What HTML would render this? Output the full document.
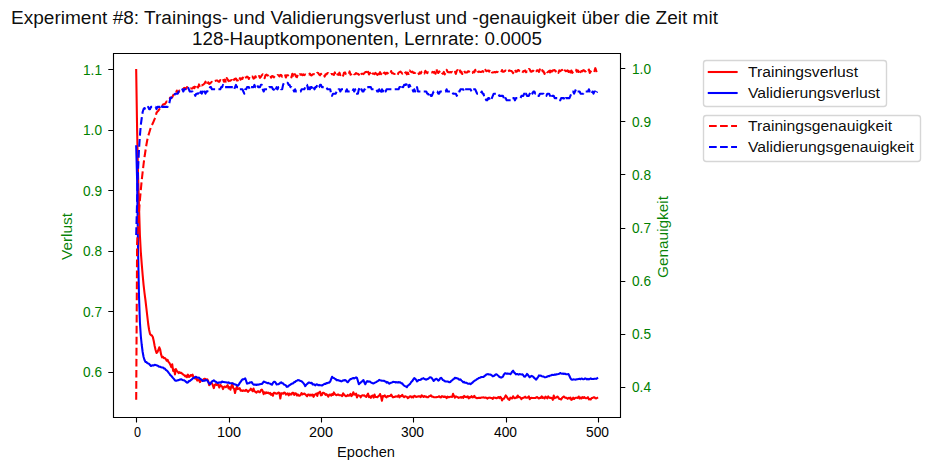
<!DOCTYPE html><html><head><meta charset="utf-8"><style>html,body{margin:0;padding:0;background:#fff}body{width:930px;height:470px;overflow:hidden}svg{display:block}text{font-family:"Liberation Sans",sans-serif}</style></head><body>
<svg width="930" height="470" viewBox="0 0 930 470">
<rect width="930" height="470" fill="#fff"/>
<defs><clipPath id="c"><rect x="113.15" y="53.13" width="507.08" height="363.59"/></clipPath></defs>
<g clip-path="url(#c)">
<path d="M136.19 70 L137.12 130 L138.04 175 L138.97 205 L139.89 235 L140.81 252 L141.74 264 L142.66 275 L143.59 285 L144.51 293 L145.43 300 L146.36 308 L147.28 316 L148.2 324 L149.13 330 L150.05 334 L150.98 335 L151.9 335.5 L152.82 337 L153.75 341 L154.67 346 L155.59 350 L156.52 353 L157.44 352 L158.37 350 L159.29 347.28 L160.21 349.72 L161.14 354.71 L162.06 357.32 L162.99 356.88 L163.91 358.29 L164.83 358.03 L165.76 358.95 L166.68 360.69 L167.6 359.82 L168.53 362.04 L169.45 362.94 L170.38 364.91 L171.3 367.19 L172.22 364.27 L173.15 370.89 L174.07 369.61 L175 374.42 L175.92 369.09 L176.84 371.02 L177.77 371.82 L178.69 373.08 L179.61 372.14 L180.54 373.04 L181.46 372.9 L182.39 373.93 L183.31 374.54 L184.23 375.22 L185.16 376.4 L186.08 375.61 L187 377.13 L187.93 374.66 L188.85 376.96 L189.78 376.5 L190.7 374.98 L191.62 375.71 L192.55 374.58 L193.47 377.2 L194.4 377.82 L195.32 378.57 L196.24 376.88 L197.17 380.6 L198.09 380.05 L199.01 379.77 L199.94 382.14 L200.86 380.44 L201.79 380.48 L202.71 380.14 L203.63 379.13 L204.56 378.77 L205.48 379.08 L206.4 379.89 L207.33 379.27 L208.25 381.19 L209.18 385.19 L210.1 383.38 L211.02 382.7 L211.95 383.36 L212.87 385.32 L213.8 388.09 L214.72 385.03 L215.64 384.12 L216.57 384.99 L217.49 383.93 L218.41 385.32 L219.34 387.48 L220.26 384.74 L221.19 385.85 L222.11 386.54 L223.03 389.06 L223.96 386.87 L224.88 386.49 L225.81 387.21 L226.73 386.26 L227.65 385.08 L228.58 388.47 L229.5 387.2 L230.42 389.73 L231.35 386.45 L232.27 383.44 L233.2 388.05 L234.12 388.88 L235.04 393.06 L235.97 388.98 L236.89 386.74 L237.81 389.1 L238.74 388.83 L239.66 388.12 L240.59 390.72 L241.51 390.35 L242.43 391 L243.36 390.33 L244.28 390.81 L245.21 390.95 L246.13 389.74 L247.05 390.8 L247.98 391.96 L248.9 390.73 L249.82 390.21 L250.75 388.68 L251.67 389.74 L252.6 391.09 L253.52 388.48 L254.44 391.46 L255.37 391.53 L256.29 392.71 L257.21 391.72 L258.14 391.18 L259.06 392.12 L259.99 392.2 L260.91 390.1 L261.83 389.53 L262.76 391.34 L263.68 394.17 L264.61 392.24 L265.53 393.45 L266.45 392.41 L267.38 393.03 L268.3 392.55 L269.22 393.7 L270.15 392.94 L271.07 394.79 L272 393.84 L272.92 395.76 L273.84 392.81 L274.77 392.72 L275.69 393.56 L276.62 393.76 L277.54 393.26 L278.46 392.46 L279.39 392.93 L280.31 398.52 L281.23 393.22 L282.16 393.34 L283.08 393.75 L284.01 392.57 L284.93 392.83 L285.85 394.6 L286.78 393.91 L287.7 393.29 L288.62 395.41 L289.55 393.56 L290.47 394.51 L291.4 394.58 L292.32 392.85 L293.24 392.74 L294.17 394.96 L295.09 393.25 L296.02 393.56 L296.94 395.48 L297.86 394.45 L298.79 395.66 L299.71 395.62 L300.63 394.92 L301.56 392.97 L302.48 394.47 L303.41 393.9 L304.33 393.57 L305.25 394.36 L306.18 395.26 L307.1 396.32 L308.03 394.52 L308.95 394.51 L309.87 395.67 L310.8 394.65 L311.72 395.4 L312.64 394.5 L313.57 396.84 L314.49 394.94 L315.42 394.42 L316.34 393.57 L317.26 395.96 L318.19 392.74 L319.11 392.71 L320.03 391.72 L320.96 395.43 L321.88 394.98 L322.81 392.74 L323.73 392.73 L324.65 393.59 L325.58 394.9 L326.5 394.21 L327.43 395.3 L328.35 396.6 L329.27 394.8 L330.2 394.45 L331.12 395.62 L332.04 394 L332.97 395 L333.89 392.43 L334.82 394.05 L335.74 394.88 L336.66 395.2 L337.59 394.55 L338.51 394.63 L339.43 395.28 L340.36 395.27 L341.28 395.3 L342.21 396.15 L343.13 393.32 L344.05 394.42 L344.98 395.43 L345.9 396.2 L346.83 395.94 L347.75 394.91 L348.67 395.78 L349.6 395.23 L350.52 393.82 L351.44 396.1 L352.37 395.01 L353.29 392.26 L354.22 394.52 L355.14 394.62 L356.06 393.59 L356.99 397.46 L357.91 395.26 L358.84 395.54 L359.76 395.67 L360.68 397.34 L361.61 395.68 L362.53 395.34 L363.45 395.59 L364.38 395.36 L365.3 396.4 L366.23 396.98 L367.15 395.07 L368.07 393.65 L369 397.12 L369.92 396.37 L370.84 397.8 L371.77 395.86 L372.69 395.48 L373.62 397.62 L374.54 394.59 L375.46 397 L376.39 397.06 L377.31 397.27 L378.24 396.27 L379.16 395.68 L380.08 394.02 L381.01 396.3 L381.93 400.76 L382.85 396.06 L383.78 396.43 L384.7 395.36 L385.63 396.77 L386.55 397.31 L387.47 395.99 L388.4 396.46 L389.32 395.92 L390.24 395.97 L391.17 394.53 L392.09 396.27 L393.02 397.38 L393.94 397.05 L394.86 396.88 L395.79 396.25 L396.71 396.49 L397.64 396.68 L398.56 395.24 L399.48 397.32 L400.41 396 L401.33 396.23 L402.25 394.86 L403.18 396.43 L404.1 397.07 L405.03 396.35 L405.95 396.58 L406.87 396.75 L407.8 398.13 L408.72 397.53 L409.65 396.53 L410.57 396.22 L411.49 397.45 L412.42 396.63 L413.34 397.28 L414.26 395.83 L415.19 396.15 L416.11 396.9 L417.04 396.75 L417.96 396.34 L418.88 396.41 L419.81 396.39 L420.73 397.19 L421.65 395.3 L422.58 396.05 L423.5 396.93 L424.43 395.98 L425.35 396.82 L426.27 396.56 L427.2 397.33 L428.12 397.25 L429.05 396.33 L429.97 396.09 L430.89 395.3 L431.82 396.64 L432.74 396.66 L433.66 397.18 L434.59 397.22 L435.51 397.28 L436.44 397.15 L437.36 397 L438.28 396.73 L439.21 396.29 L440.13 397.31 L441.05 397.46 L441.98 396.14 L442.9 396.47 L443.83 396.99 L444.75 396.52 L445.67 396.95 L446.6 398.08 L447.52 396.7 L448.45 397.22 L449.37 397.14 L450.29 396.82 L451.22 396.77 L452.14 396.96 L453.06 393.77 L453.99 396.09 L454.91 397.71 L455.84 396.36 L456.76 396.77 L457.68 397.12 L458.61 397.84 L459.53 397.6 L460.46 397.16 L461.38 397.65 L462.3 396.83 L463.23 397.88 L464.15 395.83 L465.07 396.84 L466 396.85 L466.92 397.17 L467.85 396.4 L468.77 398.38 L469.69 397.09 L470.62 397.49 L471.54 396.2 L472.46 397.4 L473.39 397.3 L474.31 395.83 L475.24 397.48 L476.16 397.78 L477.08 398.17 L478.01 397.88 L478.93 398.04 L479.86 397.71 L480.78 397.89 L481.7 397.43 L482.63 397.53 L483.55 397.37 L484.47 397.82 L485.4 397.49 L486.32 397.71 L487.25 398.57 L488.17 397.88 L489.09 397.71 L490.02 397.65 L490.94 398.07 L491.86 398.16 L492.79 398.83 L493.71 397.42 L494.64 397.67 L495.56 397.86 L496.48 398.3 L497.41 397.74 L498.33 397.04 L499.26 398.15 L500.18 396.86 L501.1 397.73 L502.03 400.41 L502.95 398.73 L503.87 398.81 L504.8 397.2 L505.72 395.38 L506.65 396.6 L507.57 398.25 L508.49 399.28 L509.42 399.82 L510.34 397.68 L511.27 398.21 L512.19 398.44 L513.11 396.27 L514.04 397.83 L514.96 398.28 L515.88 397.6 L516.81 397.76 L517.73 395.5 L518.66 397.1 L519.58 396.95 L520.5 397.77 L521.43 399.12 L522.35 397.96 L523.27 397.86 L524.2 397.48 L525.12 396.71 L526.05 397.75 L526.97 397.77 L527.89 397.51 L528.82 396.36 L529.74 399.21 L530.67 398.01 L531.59 397.91 L532.51 397.94 L533.44 397.96 L534.36 397.96 L535.28 398.08 L536.21 397.41 L537.13 397.07 L538.06 397.95 L538.98 398.47 L539.9 397.73 L540.83 397.9 L541.75 396.41 L542.67 397.86 L543.6 397.52 L544.52 398.49 L545.45 396.64 L546.37 397.28 L547.29 398.4 L548.22 396.41 L549.14 397.55 L550.07 397.91 L550.99 397.88 L551.91 397.92 L552.84 399.81 L553.76 395.49 L554.68 398.21 L555.61 397.58 L556.53 397.51 L557.46 396.48 L558.38 397.4 L559.3 399.03 L560.23 399.08 L561.15 399.48 L562.08 397.9 L563 397.07 L563.92 396.5 L564.85 397.56 L565.77 397.88 L566.69 397.91 L567.62 398.83 L568.54 397.9 L569.47 398.49 L570.39 397.48 L571.31 399.9 L572.24 399.3 L573.16 397.66 L574.08 399.02 L575.01 398.1 L575.93 397.75 L576.86 397.68 L577.78 397.89 L578.7 396.49 L579.63 398.5 L580.55 397.55 L581.48 398.51 L582.4 397.04 L583.32 397.92 L584.25 397.08 L585.17 397.95 L586.09 398.3 L587.02 398.01 L587.94 397.16 L588.87 399.4 L589.79 399.07 L590.71 399.52 L591.64 397.93 L592.56 398.02 L593.49 397.3 L594.41 397.34 L595.33 398.22 L596.26 398.41 L597.18 397.9" stroke="#f00" fill="none" stroke-width="2.0833" stroke-linejoin="round" stroke-linecap="square"/>
<path d="M136.19 146.3 L137.12 180 L138.04 250 L138.97 295 L139.89 322 L140.81 336 L141.74 345 L142.66 352 L143.59 357 L144.51 360 L145.43 361.91 L146.36 362.02 L147.28 363.12 L148.2 363.41 L149.13 363.95 L150.05 364.98 L150.98 366.03 L151.9 365.62 L152.82 365.35 L153.75 365.43 L154.67 364.82 L155.59 365.05 L156.52 365.35 L157.44 365.42 L158.37 366.31 L159.29 366.76 L160.21 366.77 L161.14 367.2 L162.06 367.45 L162.99 367.58 L163.91 368.4 L164.83 368.51 L165.76 369.81 L166.68 370.47 L167.6 371.27 L168.53 372.64 L169.45 373.68 L170.38 375.22 L171.3 375.86 L172.22 377.01 L173.15 378.1 L174.07 379.1 L175 380.4 L175.92 380.66 L176.84 380.67 L177.77 380.2 L178.69 380.14 L179.61 379.62 L180.54 379.4 L181.46 379.26 L182.39 380.01 L183.31 380.24 L184.23 380.33 L185.16 381 L186.08 381.96 L187 382.63 L187.93 382.49 L188.85 380.97 L189.78 381.1 L190.7 380.2 L191.62 379.58 L192.55 378.67 L193.47 377.93 L194.4 377.69 L195.32 376.87 L196.24 377.1 L197.17 377.48 L198.09 377.71 L199.01 377.64 L199.94 378.72 L200.86 379.23 L201.79 380.08 L202.71 381.01 L203.63 380.81 L204.56 380.8 L205.48 380.1 L206.4 380.11 L207.33 380.5 L208.25 381.98 L209.18 383.54 L210.1 384.18 L211.02 382.84 L211.95 381.45 L212.87 381.02 L213.8 380.3 L214.72 381.2 L215.64 381.66 L216.57 382.41 L217.49 382.99 L218.41 382.47 L219.34 382.6 L220.26 382.33 L221.19 382.64 L222.11 381.54 L223.03 381.96 L223.96 382.03 L224.88 382.18 L225.81 382.29 L226.73 382.51 L227.65 382.79 L228.58 382.39 L229.5 383.24 L230.42 383.19 L231.35 383.25 L232.27 383.26 L233.2 383.53 L234.12 384.3 L235.04 384.38 L235.97 384.72 L236.89 385.21 L237.81 385.68 L238.74 384.68 L239.66 383.11 L240.59 381.83 L241.51 380.53 L242.43 379.41 L243.36 379.36 L244.28 378.92 L245.21 378.42 L246.13 380.84 L247.05 383.65 L247.98 383.2 L248.9 383.3 L249.82 382.37 L250.75 382.56 L251.67 382.07 L252.6 383.6 L253.52 384.61 L254.44 384.49 L255.37 384.63 L256.29 384.98 L257.21 384.48 L258.14 384.69 L259.06 384.38 L259.99 384.18 L260.91 384.04 L261.83 384.05 L262.76 382.96 L263.68 381.56 L264.61 381.9 L265.53 382.33 L266.45 382.66 L267.38 383.17 L268.3 382.89 L269.22 383.37 L270.15 383.69 L271.07 384.35 L272 384.65 L272.92 382.94 L273.84 381.85 L274.77 381.74 L275.69 382.74 L276.62 384.39 L277.54 384.25 L278.46 384.26 L279.39 383.71 L280.31 382.78 L281.23 382.3 L282.16 383.27 L283.08 383.31 L284.01 384.54 L284.93 384.86 L285.85 385.39 L286.78 386.83 L287.7 386.66 L288.62 385.69 L289.55 385.29 L290.47 384.57 L291.4 383.92 L292.32 383.53 L293.24 383.26 L294.17 382.07 L295.09 381.97 L296.02 380.92 L296.94 380.7 L297.86 379.99 L298.79 380.18 L299.71 380.51 L300.63 381.09 L301.56 381.28 L302.48 382.13 L303.41 383.18 L304.33 384.38 L305.25 386.15 L306.18 384.87 L307.1 383.99 L308.03 383.14 L308.95 382.43 L309.87 382.75 L310.8 383.15 L311.72 382.82 L312.64 384.35 L313.57 384.34 L314.49 384.58 L315.42 385.33 L316.34 384.34 L317.26 384.47 L318.19 385.12 L319.11 384.9 L320.03 385.19 L320.96 385.33 L321.88 385.54 L322.81 385.01 L323.73 384.35 L324.65 383.75 L325.58 383.87 L326.5 383.06 L327.43 383.18 L328.35 382.63 L329.27 382.59 L330.2 381.53 L331.12 379.17 L332.04 376.78 L332.97 377.68 L333.89 377.99 L334.82 378.77 L335.74 379.1 L336.66 380.32 L337.59 380.12 L338.51 380.3 L339.43 380.71 L340.36 380.86 L341.28 381.43 L342.21 380.99 L343.13 380.39 L344.05 380.44 L344.98 380.03 L345.9 380.39 L346.83 381.71 L347.75 382.28 L348.67 381.13 L349.6 379.96 L350.52 379.1 L351.44 378.98 L352.37 378.42 L353.29 378 L354.22 378.47 L355.14 377.87 L356.06 377.41 L356.99 377.93 L357.91 381.04 L358.84 384.23 L359.76 383.34 L360.68 382.72 L361.61 381.53 L362.53 381.17 L363.45 380.02 L364.38 382.46 L365.3 384.24 L366.23 382.33 L367.15 381.08 L368.07 381.72 L369 381.39 L369.92 381.61 L370.84 382.31 L371.77 382.78 L372.69 383.31 L373.62 383.43 L374.54 382.87 L375.46 382.37 L376.39 382.07 L377.31 381.27 L378.24 380.9 L379.16 379.86 L380.08 380.29 L381.01 380.43 L381.93 380.78 L382.85 380.71 L383.78 380.72 L384.7 381.22 L385.63 381.45 L386.55 382.66 L387.47 382.11 L388.4 382.83 L389.32 383.72 L390.24 383.15 L391.17 382.66 L392.09 382.46 L393.02 381.88 L393.94 382.03 L394.86 382.05 L395.79 382.49 L396.71 382.08 L397.64 382.52 L398.56 382.06 L399.48 382.51 L400.41 382.39 L401.33 383.35 L402.25 383.32 L403.18 384.72 L404.1 385.52 L405.03 386.1 L405.95 386.47 L406.87 387.25 L407.8 385.61 L408.72 385.06 L409.65 384.26 L410.57 383.03 L411.49 381.68 L412.42 380.85 L413.34 379.36 L414.26 378.02 L415.19 378.78 L416.11 379.85 L417.04 381.46 L417.96 380.63 L418.88 379.92 L419.81 380.01 L420.73 379.82 L421.65 378.8 L422.58 378.67 L423.5 378.18 L424.43 378.97 L425.35 379.34 L426.27 379.69 L427.2 379.17 L428.12 378.85 L429.05 378.06 L429.97 377.19 L430.89 377.47 L431.82 378.06 L432.74 379.46 L433.66 380.98 L434.59 379.97 L435.51 379.15 L436.44 378.74 L437.36 379.49 L438.28 380.64 L439.21 380.1 L440.13 378.46 L441.05 377.81 L441.98 378.73 L442.9 380.05 L443.83 380.38 L444.75 381.24 L445.67 381.39 L446.6 381.43 L447.52 381.45 L448.45 381.82 L449.37 382.27 L450.29 381.98 L451.22 380.81 L452.14 380.29 L453.06 379.4 L453.99 378.84 L454.91 377.74 L455.84 378.32 L456.76 378.12 L457.68 378.42 L458.61 379.13 L459.53 379.81 L460.46 379.38 L461.38 380.44 L462.3 381.2 L463.23 382.33 L464.15 381.89 L465.07 382.85 L466 382.65 L466.92 383.03 L467.85 383.63 L468.77 383.67 L469.69 383.59 L470.62 384.14 L471.54 383.33 L472.46 382.72 L473.39 381.68 L474.31 380.98 L475.24 380.38 L476.16 379.79 L477.08 379.06 L478.01 378.54 L478.93 377.91 L479.86 377.67 L480.78 377.3 L481.7 376.95 L482.63 376.99 L483.55 376.87 L484.47 376.06 L485.4 375.42 L486.32 374.47 L487.25 374.25 L488.17 374.16 L489.09 374.46 L490.02 374.42 L490.94 374.81 L491.86 375.4 L492.79 376.35 L493.71 376.01 L494.64 375.44 L495.56 374.5 L496.48 374.24 L497.41 375.02 L498.33 375.72 L499.26 376.83 L500.18 377.22 L501.1 377.61 L502.03 377.22 L502.95 376.63 L503.87 374.54 L504.8 373.33 L505.72 373.4 L506.65 373.79 L507.57 373.45 L508.49 373.75 L509.42 373.68 L510.34 374.23 L511.27 373.09 L512.19 371.64 L513.11 370.66 L514.04 372.34 L514.96 373.14 L515.88 374.32 L516.81 373.93 L517.73 374.08 L518.66 374.62 L519.58 374.1 L520.5 374.35 L521.43 374.52 L522.35 374.32 L523.27 375.25 L524.2 376.54 L525.12 376.76 L526.05 375.48 L526.97 373.92 L527.89 374.84 L528.82 376.27 L529.74 377.31 L530.67 376.47 L531.59 375.88 L532.51 376.16 L533.44 377.01 L534.36 378.19 L535.28 378.73 L536.21 379.63 L537.13 378.21 L538.06 377.11 L538.98 375.39 L539.9 375.69 L540.83 375.54 L541.75 376.28 L542.67 376.41 L543.6 376.53 L544.52 377.27 L545.45 377.21 L546.37 377.06 L547.29 376.5 L548.22 376.1 L549.14 376.3 L550.07 375.46 L550.99 375.51 L551.91 374.88 L552.84 375.08 L553.76 374.92 L554.68 374.56 L555.61 374.73 L556.53 374.25 L557.46 374.21 L558.38 374.03 L559.3 373.67 L560.23 372.99 L561.15 373.6 L562.08 373.82 L563 373.59 L563.92 373.93 L564.85 373.61 L565.77 374.21 L566.69 374.28 L567.62 374.3 L568.54 374.15 L569.47 375.98 L570.39 378.22 L571.31 379.47 L572.24 379.72 L573.16 379.39 L574.08 379.45 L575.01 379.45 L575.93 379.67 L576.86 379.18 L577.78 379.16 L578.7 379.07 L579.63 378.78 L580.55 379.19 L581.48 378.57 L582.4 378.83 L583.32 379.32 L584.25 378.99 L585.17 378.42 L586.09 378.74 L587.02 379.41 L587.94 378.92 L588.87 379.45 L589.79 378.85 L590.71 378.38 L591.64 379.05 L592.56 378.93 L593.49 379.06 L594.41 378.72 L595.33 378.72 L596.26 378.84 L597.18 378.25" stroke="#00f" fill="none" stroke-width="2.0833" stroke-linejoin="round" stroke-linecap="square"/>
<path d="M136.19 399.7 L137.12 243 L138.04 228 L138.97 212 L139.89 200 L140.81 190 L141.74 180 L142.66 172 L143.59 164 L144.51 157 L145.43 151 L146.36 145 L147.28 140 L148.2 136 L149.13 133 L150.05 130 L150.98 127 L151.9 125.17 L152.82 123.34 L153.75 121.14 L154.67 118.86 L155.59 116.36 L156.52 112.72 L157.44 111.59 L158.37 110.67 L159.29 109.24 L160.21 108.02 L161.14 106.23 L162.06 105.94 L162.99 104.44 L163.91 104.16 L164.83 104.21 L165.76 102.85 L166.68 101.43 L167.6 101.57 L168.53 99.25 L169.45 98.77 L170.38 97.45 L171.3 97.86 L172.22 97.29 L173.15 95.36 L174.07 93.91 L175 94.35 L175.92 93.2 L176.84 90.59 L177.77 92.57 L178.69 91.96 L179.61 90.21 L180.54 89.83 L181.46 89.23 L182.39 88.29 L183.31 88.91 L184.23 87.81 L185.16 88.29 L186.08 88.79 L187 87.02 L187.93 88.25 L188.85 87.56 L189.78 88.41 L190.7 88.38 L191.62 88.44 L192.55 88.53 L193.47 87.12 L194.4 88.18 L195.32 85.93 L196.24 88.33 L197.17 87.06 L198.09 87.53 L199.01 84.43 L199.94 87.32 L200.86 85.25 L201.79 85.48 L202.71 84.86 L203.63 84.29 L204.56 83.49 L205.48 81.67 L206.4 84.67 L207.33 85.04 L208.25 82.32 L209.18 84.02 L210.1 83.37 L211.02 82.53 L211.95 81.8 L212.87 82.28 L213.8 80.79 L214.72 81.01 L215.64 80.74 L216.57 80.46 L217.49 80.58 L218.41 81.67 L219.34 81.67 L220.26 80.12 L221.19 80.78 L222.11 80.59 L223.03 78.97 L223.96 81.77 L224.88 79.48 L225.81 81.64 L226.73 78.1 L227.65 79.59 L228.58 81.06 L229.5 80.67 L230.42 80.67 L231.35 79.98 L232.27 81.93 L233.2 79.79 L234.12 79.91 L235.04 78.69 L235.97 78.47 L236.89 80.49 L237.81 80.35 L238.74 76.99 L239.66 78.04 L240.59 79.65 L241.51 78.29 L242.43 78.98 L243.36 75.99 L244.28 77.79 L245.21 77.48 L246.13 77.45 L247.05 76.66 L247.98 77.21 L248.9 78.96 L249.82 76.02 L250.75 76.96 L251.67 76.65 L252.6 76.62 L253.52 78.63 L254.44 78.33 L255.37 76.3 L256.29 77.13 L257.21 75.7 L258.14 76.78 L259.06 76 L259.99 77.8 L260.91 76.74 L261.83 75.19 L262.76 74.41 L263.68 75.07 L264.61 78.3 L265.53 75.16 L266.45 74.68 L267.38 75.4 L268.3 75.56 L269.22 76.66 L270.15 75.24 L271.07 77.66 L272 75.96 L272.92 76.23 L273.84 77.34 L274.77 76.05 L275.69 76.17 L276.62 76.47 L277.54 75.05 L278.46 75.22 L279.39 76.42 L280.31 74.92 L281.23 75.1 L282.16 76.6 L283.08 76.23 L284.01 75.94 L284.93 74.42 L285.85 77.54 L286.78 75.36 L287.7 75.17 L288.62 75.28 L289.55 74.58 L290.47 75.12 L291.4 77.39 L292.32 73.82 L293.24 77.57 L294.17 74.32 L295.09 74.29 L296.02 76.6 L296.94 77.13 L297.86 74.76 L298.79 75.97 L299.71 74.32 L300.63 74.71 L301.56 74.28 L302.48 75.14 L303.41 74.32 L304.33 75.07 L305.25 74.56 L306.18 74.87 L307.1 74.91 L308.03 74.13 L308.95 74.39 L309.87 73.58 L310.8 75.22 L311.72 75.42 L312.64 74.28 L313.57 74.33 L314.49 74.03 L315.42 74.09 L316.34 74.67 L317.26 72.8 L318.19 73.01 L319.11 74.53 L320.03 75.33 L320.96 73.72 L321.88 75.2 L322.81 75.33 L323.73 74.48 L324.65 76.59 L325.58 74.21 L326.5 74.45 L327.43 73.16 L328.35 73.25 L329.27 74.37 L330.2 74.82 L331.12 74.01 L332.04 74.15 L332.97 74.29 L333.89 74.92 L334.82 72.43 L335.74 74.91 L336.66 73.25 L337.59 74.56 L338.51 74.84 L339.43 72.63 L340.36 75.13 L341.28 74.05 L342.21 73.43 L343.13 75.73 L344.05 72.65 L344.98 72.39 L345.9 74.07 L346.83 74.3 L347.75 73.62 L348.67 74.4 L349.6 71.44 L350.52 74.79 L351.44 73.95 L352.37 72.68 L353.29 72.55 L354.22 74.2 L355.14 74.12 L356.06 73.05 L356.99 73.81 L357.91 73.72 L358.84 74.76 L359.76 72.73 L360.68 74.66 L361.61 73.74 L362.53 73.67 L363.45 74.13 L364.38 73.09 L365.3 72.13 L366.23 71.9 L367.15 74.53 L368.07 71.75 L369 74.51 L369.92 72.74 L370.84 74.53 L371.77 72.48 L372.69 73.69 L373.62 73.55 L374.54 74.13 L375.46 72.93 L376.39 73.75 L377.31 74.86 L378.24 71.9 L379.16 74.28 L380.08 72.16 L381.01 74.18 L381.93 72.8 L382.85 74.61 L383.78 72.89 L384.7 72.62 L385.63 74.15 L386.55 72.84 L387.47 72.86 L388.4 74 L389.32 74.46 L390.24 73.87 L391.17 71.09 L392.09 73.32 L393.02 73.25 L393.94 73.81 L394.86 73.98 L395.79 73.94 L396.71 73.38 L397.64 74.91 L398.56 72.72 L399.48 72.18 L400.41 71.58 L401.33 72.45 L402.25 73.61 L403.18 72.85 L404.1 74.22 L405.03 72.8 L405.95 72.26 L406.87 74.31 L407.8 72.58 L408.72 73.91 L409.65 70.51 L410.57 71.44 L411.49 72.21 L412.42 71.68 L413.34 72.95 L414.26 72.77 L415.19 72.91 L416.11 71.79 L417.04 71.79 L417.96 71.99 L418.88 74.11 L419.81 72.32 L420.73 73.5 L421.65 71.74 L422.58 71.12 L423.5 72.65 L424.43 73.46 L425.35 70.81 L426.27 71.92 L427.2 73.07 L428.12 72.16 L429.05 72.1 L429.97 73.16 L430.89 72.54 L431.82 72.54 L432.74 71.85 L433.66 72.61 L434.59 71.81 L435.51 73.73 L436.44 69.21 L437.36 72.4 L438.28 73 L439.21 71.31 L440.13 72.84 L441.05 71.52 L441.98 72.92 L442.9 73.86 L443.83 71.96 L444.75 74.41 L445.67 72.15 L446.6 69.74 L447.52 71.74 L448.45 72.26 L449.37 72.34 L450.29 72.08 L451.22 72.47 L452.14 71.88 L453.06 73.39 L453.99 72.37 L454.91 71.89 L455.84 73.85 L456.76 70.73 L457.68 70.11 L458.61 71.29 L459.53 69.41 L460.46 72.45 L461.38 71.63 L462.3 74.03 L463.23 70.98 L464.15 70.71 L465.07 72.57 L466 72.51 L466.92 72.53 L467.85 71.27 L468.77 71.25 L469.69 72.37 L470.62 71.66 L471.54 72.38 L472.46 72.92 L473.39 71.49 L474.31 72.34 L475.24 69.83 L476.16 73.34 L477.08 73.27 L478.01 71.91 L478.93 71.52 L479.86 71.89 L480.78 71.99 L481.7 71.67 L482.63 71.09 L483.55 72.02 L484.47 72.94 L485.4 69.8 L486.32 71.2 L487.25 70.87 L488.17 70.54 L489.09 71.64 L490.02 69.45 L490.94 71.21 L491.86 72.47 L492.79 72.51 L493.71 72.28 L494.64 71.93 L495.56 72.41 L496.48 71.73 L497.41 72.06 L498.33 72.3 L499.26 73.06 L500.18 72.6 L501.1 72.45 L502.03 70.06 L502.95 71.81 L503.87 71.7 L504.8 70.98 L505.72 70.47 L506.65 72.14 L507.57 71.56 L508.49 71.16 L509.42 70.36 L510.34 70.69 L511.27 70.9 L512.19 71.72 L513.11 73.03 L514.04 71.58 L514.96 69.38 L515.88 71.78 L516.81 71.8 L517.73 70.31 L518.66 69.98 L519.58 71.3 L520.5 72.03 L521.43 71.69 L522.35 72.82 L523.27 71.13 L524.2 71.26 L525.12 70.38 L526.05 72.21 L526.97 71.44 L527.89 71.78 L528.82 68.96 L529.74 69.43 L530.67 71.57 L531.59 71.81 L532.51 70.77 L533.44 70.88 L534.36 71.91 L535.28 70.36 L536.21 71.19 L537.13 70.21 L538.06 70.57 L538.98 71.98 L539.9 69.42 L540.83 70.41 L541.75 68.66 L542.67 71.47 L543.6 71.35 L544.52 74.03 L545.45 70.75 L546.37 71.37 L547.29 72.24 L548.22 71.83 L549.14 70.86 L550.07 72.38 L550.99 68.42 L551.91 71.62 L552.84 70.39 L553.76 70.36 L554.68 70.08 L555.61 71.46 L556.53 70.09 L557.46 71.26 L558.38 72.84 L559.3 70.38 L560.23 71.2 L561.15 70.49 L562.08 69.77 L563 71.66 L563.92 72.31 L564.85 70.41 L565.77 71.12 L566.69 70.93 L567.62 70.32 L568.54 71.89 L569.47 69.05 L570.39 72.55 L571.31 70.51 L572.24 72.81 L573.16 71.54 L574.08 70.96 L575.01 69.35 L575.93 69.71 L576.86 71.7 L577.78 70.28 L578.7 71.9 L579.63 69.72 L580.55 72.08 L581.48 70.98 L582.4 71.4 L583.32 70.11 L584.25 70.56 L585.17 71.49 L586.09 71.14 L587.02 70.01 L587.94 71.18 L588.87 69.48 L589.79 72.98 L590.71 71.53 L591.64 70.45 L592.56 70.65 L593.49 69.92 L594.41 71.03 L595.33 68.19 L596.26 70.91 L597.18 72.63" stroke="#f00" fill="none" stroke-width="2.0833" stroke-linejoin="round" stroke-linecap="butt" stroke-dasharray="7.708 3.333"/>
<path d="M136.19 235 L137.12 200 L138.04 170 L138.97 150 L139.89 136 L140.81 125 L141.74 118 L142.66 112 L143.59 109 L144.51 108 L145.43 109 L146.36 109.09 L147.28 109.1 L148.2 106.9 L149.13 109.1 L150.05 109.1 L150.98 106.9 L151.9 106.9 L152.82 106.9 L153.75 106.9 L154.67 106.9 L155.59 106.9 L156.52 109.1 L157.44 106.9 L158.37 106.9 L159.29 106.9 L160.21 106.9 L161.14 104.7 L162.06 106.9 L162.99 106.9 L163.91 106.9 L164.83 106.9 L165.76 106.9 L166.68 106.9 L167.6 106.9 L168.53 104.7 L169.45 102.5 L170.38 98.1 L171.3 98.1 L172.22 95.9 L173.15 95.9 L174.07 95.9 L175 93.7 L175.92 93.7 L176.84 93.7 L177.77 93.7 L178.69 91.5 L179.61 91.5 L180.54 91.5 L181.46 91.5 L182.39 89.3 L183.31 91.5 L184.23 89.3 L185.16 89.3 L186.08 89.3 L187 89.3 L187.93 87.1 L188.85 89.3 L189.78 91.5 L190.7 91.5 L191.62 91.5 L192.55 91.5 L193.47 93.7 L194.4 93.7 L195.32 95.9 L196.24 93.7 L197.17 93.7 L198.09 93.7 L199.01 91.5 L199.94 93.7 L200.86 91.5 L201.79 93.7 L202.71 91.5 L203.63 93.7 L204.56 91.5 L205.48 93.7 L206.4 91.5 L207.33 91.5 L208.25 89.3 L209.18 89.3 L210.1 87.1 L211.02 87.1 L211.95 89.3 L212.87 89.3 L213.8 89.3 L214.72 89.3 L215.64 89.3 L216.57 89.3 L217.49 89.3 L218.41 89.3 L219.34 89.3 L220.26 89.3 L221.19 87.1 L222.11 87.1 L223.03 84.9 L223.96 87.1 L224.88 87.1 L225.81 87.1 L226.73 87.1 L227.65 87.1 L228.58 87.1 L229.5 87.1 L230.42 87.1 L231.35 87.1 L232.27 87.1 L233.2 87.1 L234.12 89.3 L235.04 87.1 L235.97 84.9 L236.89 87.1 L237.81 87.1 L238.74 87.1 L239.66 89.3 L240.59 89.3 L241.51 89.3 L242.43 89.3 L243.36 91.5 L244.28 93.7 L245.21 89.3 L246.13 89.3 L247.05 87.1 L247.98 87.1 L248.9 87.1 L249.82 89.3 L250.75 87.1 L251.67 87.1 L252.6 87.1 L253.52 87.1 L254.44 84.9 L255.37 87.1 L256.29 87.1 L257.21 84.9 L258.14 87.1 L259.06 87.1 L259.99 87.1 L260.91 84.9 L261.83 84.9 L262.76 89.3 L263.68 91.5 L264.61 89.3 L265.53 89.3 L266.45 89.3 L267.38 89.3 L268.3 89.3 L269.22 87.1 L270.15 87.1 L271.07 87.1 L272 87.1 L272.92 89.3 L273.84 89.3 L274.77 91.5 L275.69 89.3 L276.62 87.1 L277.54 89.3 L278.46 87.1 L279.39 87.1 L280.31 87.1 L281.23 89.3 L282.16 89.3 L283.08 84.9 L284.01 82.7 L284.93 82.7 L285.85 82.7 L286.78 82.7 L287.7 82.7 L288.62 84.9 L289.55 84.9 L290.47 87.1 L291.4 87.1 L292.32 89.3 L293.24 89.3 L294.17 91.5 L295.09 89.3 L296.02 91.5 L296.94 91.5 L297.86 91.5 L298.79 91.5 L299.71 91.5 L300.63 91.5 L301.56 89.3 L302.48 89.3 L303.41 89.3 L304.33 89.3 L305.25 87.1 L306.18 84.9 L307.1 84.9 L308.03 89.3 L308.95 84.9 L309.87 89.3 L310.8 87.1 L311.72 87.1 L312.64 89.3 L313.57 87.1 L314.49 89.3 L315.42 87.1 L316.34 87.1 L317.26 84.9 L318.19 87.1 L319.11 87.1 L320.03 84.9 L320.96 84.9 L321.88 87.1 L322.81 87.1 L323.73 87.1 L324.65 87.1 L325.58 87.1 L326.5 87.1 L327.43 89.3 L328.35 89.3 L329.27 89.3 L330.2 89.3 L331.12 93.7 L332.04 95.9 L332.97 93.7 L333.89 93.7 L334.82 93.7 L335.74 93.7 L336.66 91.5 L337.59 91.5 L338.51 89.3 L339.43 89.3 L340.36 91.5 L341.28 89.3 L342.21 89.3 L343.13 89.3 L344.05 91.5 L344.98 91.5 L345.9 91.5 L346.83 89.3 L347.75 91.5 L348.67 91.5 L349.6 91.5 L350.52 91.5 L351.44 91.5 L352.37 91.5 L353.29 89.3 L354.22 91.5 L355.14 89.3 L356.06 93.7 L356.99 93.7 L357.91 93.7 L358.84 89.3 L359.76 87.1 L360.68 89.3 L361.61 89.3 L362.53 91.5 L363.45 91.5 L364.38 89.3 L365.3 89.3 L366.23 87.1 L367.15 87.1 L368.07 87.1 L369 87.1 L369.92 87.1 L370.84 87.1 L371.77 89.3 L372.69 89.3 L373.62 89.3 L374.54 89.3 L375.46 89.3 L376.39 89.3 L377.31 91.5 L378.24 91.5 L379.16 89.3 L380.08 93.7 L381.01 91.5 L381.93 89.3 L382.85 91.5 L383.78 89.3 L384.7 89.3 L385.63 91.5 L386.55 89.3 L387.47 89.3 L388.4 89.3 L389.32 89.3 L390.24 89.3 L391.17 89.3 L392.09 89.3 L393.02 89.3 L393.94 89.3 L394.86 89.3 L395.79 89.3 L396.71 89.3 L397.64 89.3 L398.56 89.3 L399.48 87.1 L400.41 87.1 L401.33 89.3 L402.25 87.1 L403.18 87.1 L404.1 84.9 L405.03 84.9 L405.95 84.9 L406.87 82.7 L407.8 82.7 L408.72 87.1 L409.65 84.9 L410.57 87.1 L411.49 89.3 L412.42 89.3 L413.34 91.5 L414.26 89.3 L415.19 91.5 L416.11 89.3 L417.04 87.1 L417.96 91.5 L418.88 91.5 L419.81 91.5 L420.73 91.5 L421.65 91.5 L422.58 91.5 L423.5 91.5 L424.43 91.5 L425.35 91.5 L426.27 91.5 L427.2 93.7 L428.12 93.7 L429.05 95.9 L429.97 93.7 L430.89 95.9 L431.82 95.9 L432.74 93.7 L433.66 91.5 L434.59 91.5 L435.51 91.5 L436.44 91.5 L437.36 91.5 L438.28 93.7 L439.21 93.7 L440.13 91.5 L441.05 91.5 L441.98 91.5 L442.9 91.5 L443.83 91.5 L444.75 91.5 L445.67 91.5 L446.6 89.3 L447.52 91.5 L448.45 91.5 L449.37 91.5 L450.29 91.5 L451.22 91.5 L452.14 91.5 L453.06 93.7 L453.99 93.7 L454.91 93.7 L455.84 93.7 L456.76 95.9 L457.68 93.7 L458.61 91.5 L459.53 91.5 L460.46 89.3 L461.38 89.3 L462.3 89.3 L463.23 89.3 L464.15 91.5 L465.07 89.3 L466 89.3 L466.92 89.3 L467.85 89.3 L468.77 89.3 L469.69 89.3 L470.62 89.3 L471.54 91.5 L472.46 89.3 L473.39 89.3 L474.31 89.3 L475.24 89.3 L476.16 91.5 L477.08 93.7 L478.01 93.7 L478.93 93.7 L479.86 93.7 L480.78 93.7 L481.7 91.5 L482.63 93.7 L483.55 93.7 L484.47 98.1 L485.4 98.1 L486.32 100.3 L487.25 100.3 L488.17 98.1 L489.09 98.1 L490.02 100.3 L490.94 100.3 L491.86 98.1 L492.79 95.9 L493.71 93.7 L494.64 93.7 L495.56 93.7 L496.48 93.7 L497.41 93.7 L498.33 93.7 L499.26 95.9 L500.18 95.9 L501.1 95.9 L502.03 95.9 L502.95 95.9 L503.87 98.1 L504.8 100.3 L505.72 98.1 L506.65 100.3 L507.57 100.3 L508.49 100.3 L509.42 100.3 L510.34 100.3 L511.27 100.3 L512.19 98.1 L513.11 98.1 L514.04 98.1 L514.96 100.3 L515.88 98.1 L516.81 98.1 L517.73 98.1 L518.66 98.1 L519.58 98.1 L520.5 98.1 L521.43 95.9 L522.35 95.9 L523.27 95.9 L524.2 93.7 L525.12 95.9 L526.05 93.7 L526.97 95.9 L527.89 95.9 L528.82 95.9 L529.74 93.7 L530.67 91.5 L531.59 91.5 L532.51 93.7 L533.44 91.5 L534.36 91.5 L535.28 93.7 L536.21 93.7 L537.13 95.9 L538.06 95.9 L538.98 95.9 L539.9 93.7 L540.83 93.7 L541.75 93.7 L542.67 93.7 L543.6 93.7 L544.52 95.9 L545.45 95.9 L546.37 95.9 L547.29 93.7 L548.22 93.7 L549.14 93.7 L550.07 95.9 L550.99 93.7 L551.91 95.9 L552.84 95.9 L553.76 95.9 L554.68 98.1 L555.61 98.1 L556.53 98.1 L557.46 98.1 L558.38 98.1 L559.3 98.1 L560.23 100.3 L561.15 98.1 L562.08 98.1 L563 98.1 L563.92 98.1 L564.85 100.3 L565.77 98.1 L566.69 98.1 L567.62 98.1 L568.54 98.1 L569.47 98.1 L570.39 95.9 L571.31 93.7 L572.24 91.5 L573.16 91.5 L574.08 93.7 L575.01 91.5 L575.93 89.3 L576.86 91.5 L577.78 91.5 L578.7 91.5 L579.63 91.5 L580.55 93.7 L581.48 93.7 L582.4 93.7 L583.32 93.7 L584.25 91.5 L585.17 91.5 L586.09 91.5 L587.02 91.5 L587.94 91.5 L588.87 89.3 L589.79 91.5 L590.71 91.5 L591.64 93.7 L592.56 91.5 L593.49 93.7 L594.41 91.5 L595.33 91.5 L596.26 93.7 L597.18 91.5" stroke="#00f" fill="none" stroke-width="2.0833" stroke-linejoin="round" stroke-linecap="butt" stroke-dasharray="7.708 3.333"/>
</g>
<path d="M113.5 53.5 V417.5 H620.5 V53.5 Z" fill="none" stroke="#000" stroke-width="1.111" stroke-linejoin="miter"/>
<path d="M108.3 69.5H113.5M108.3 130.5H113.5M108.3 190.5H113.5M108.3 251.5H113.5M108.3 311.5H113.5M108.3 372.5H113.5M620.5 68.5H625.3M620.5 121.5H625.3M620.5 174.5H625.3M620.5 228.5H625.3M620.5 281.5H625.3M620.5 334.5H625.3M620.5 387.5H625.3M136.5 417.5V422.4M229.5 417.5V422.4M321.5 417.5V422.4M413.5 417.5V422.4M506.5 417.5V422.4M598.5 417.5V422.4" stroke="#000" stroke-width="1.111"/>
<rect x="703.5" y="60.5" width="183.0" height="46.0" rx="2.8" ry="2.8" fill="#fff" fill-opacity="0.8" stroke="#d6d6d6" stroke-width="1.39"/>
<rect x="703.5" y="115.5" width="217.0" height="46.0" rx="2.8" ry="2.8" fill="#fff" fill-opacity="0.8" stroke="#d6d6d6" stroke-width="1.39"/>
<path d="M708.8 72H736.6" stroke="#f00" fill="none" stroke-width="2.0833" stroke-linejoin="round" stroke-linecap="square"/>
<path d="M708.8 93H736.6" stroke="#00f" fill="none" stroke-width="2.0833" stroke-linejoin="round" stroke-linecap="square"/>
<path d="M709 126H737" stroke="#f00" fill="none" stroke-width="2.0833" stroke-linejoin="round" stroke-linecap="butt" stroke-dasharray="7.708 3.333"/>
<path d="M709 147H737" stroke="#00f" fill="none" stroke-width="2.0833" stroke-linejoin="round" stroke-linecap="butt" stroke-dasharray="7.708 3.333"/>
<text x="11" y="23.5" font-size="17.6" fill="#000" textLength="707" lengthAdjust="spacingAndGlyphs" fill-opacity="0.958">Experiment #8: Trainings- und Validierungsverlust und -genauigkeit über die Zeit mit</text>
<text x="192" y="44.5" font-size="17.6" fill="#000" textLength="350" lengthAdjust="spacingAndGlyphs" fill-opacity="0.964">128-Hauptkomponenten, Lernrate: 0.0005</text>
<text x="337" y="457" font-size="14.7" fill="#000" textLength="58" lengthAdjust="spacingAndGlyphs" fill-opacity="0.978">Epochen</text>
<text transform="translate(72 260) rotate(-90)" x="0" y="0" font-size="14.7" fill="#008000" textLength="47" lengthAdjust="spacingAndGlyphs" fill-opacity="0.98">Verlust</text>
<text transform="translate(668 278) rotate(-90)" x="0" y="0" font-size="14.7" fill="#008000" textLength="82" lengthAdjust="spacingAndGlyphs" fill-opacity="0.98">Genauigkeit</text>
<text x="134" y="437" font-size="14.7" fill="#000" textLength="7" lengthAdjust="spacingAndGlyphs">0</text>
<text x="217" y="437" font-size="14.7" fill="#000" textLength="24" lengthAdjust="spacingAndGlyphs">100</text>
<text x="309" y="437" font-size="14.7" fill="#000" textLength="24" lengthAdjust="spacingAndGlyphs">200</text>
<text x="401" y="437" font-size="14.7" fill="#000" textLength="23" lengthAdjust="spacingAndGlyphs">300</text>
<text x="494" y="437" font-size="14.7" fill="#000" textLength="23" lengthAdjust="spacingAndGlyphs">400</text>
<text x="586" y="437" font-size="14.7" fill="#000" textLength="23" lengthAdjust="spacingAndGlyphs">500</text>
<text x="83" y="377" font-size="14.7" fill="#008000" textLength="19" lengthAdjust="spacingAndGlyphs">0.6</text>
<text x="83" y="317" font-size="14.7" fill="#008000" textLength="19" lengthAdjust="spacingAndGlyphs">0.7</text>
<text x="83" y="256" font-size="14.7" fill="#008000" textLength="19" lengthAdjust="spacingAndGlyphs">0.8</text>
<text x="83" y="196" font-size="14.7" fill="#008000" textLength="19" lengthAdjust="spacingAndGlyphs">0.9</text>
<text x="83" y="135" font-size="14.7" fill="#008000" textLength="19" lengthAdjust="spacingAndGlyphs">1.0</text>
<text x="83" y="75" font-size="14.7" fill="#008000" textLength="19" lengthAdjust="spacingAndGlyphs">1.1</text>
<text x="632" y="392" font-size="14.7" fill="#008000" textLength="19" lengthAdjust="spacingAndGlyphs">0.4</text>
<text x="632" y="339" font-size="14.7" fill="#008000" textLength="19" lengthAdjust="spacingAndGlyphs">0.5</text>
<text x="632" y="286" font-size="14.7" fill="#008000" textLength="19" lengthAdjust="spacingAndGlyphs">0.6</text>
<text x="632" y="233" font-size="14.7" fill="#008000" textLength="19" lengthAdjust="spacingAndGlyphs">0.7</text>
<text x="632" y="180" font-size="14.7" fill="#008000" textLength="19" lengthAdjust="spacingAndGlyphs">0.8</text>
<text x="632" y="127" font-size="14.7" fill="#008000" textLength="19" lengthAdjust="spacingAndGlyphs">0.9</text>
<text x="632" y="74" font-size="14.7" fill="#008000" textLength="19" lengthAdjust="spacingAndGlyphs">1.0</text>
<text x="748" y="77" font-size="14.7" fill="#000" textLength="110" lengthAdjust="spacingAndGlyphs" fill-opacity="0.965">Trainingsverlust</text>
<text x="748" y="98" font-size="14.7" fill="#000" textLength="132" lengthAdjust="spacingAndGlyphs" fill-opacity="0.961">Validierungsverlust</text>
<text x="748" y="131" font-size="14.7" fill="#000" textLength="144" lengthAdjust="spacingAndGlyphs" fill-opacity="0.961">Trainingsgenauigkeit</text>
<text x="748" y="152" font-size="14.7" fill="#000" textLength="166" lengthAdjust="spacingAndGlyphs" fill-opacity="0.959">Validierungsgenauigkeit</text>
</svg></body></html>
